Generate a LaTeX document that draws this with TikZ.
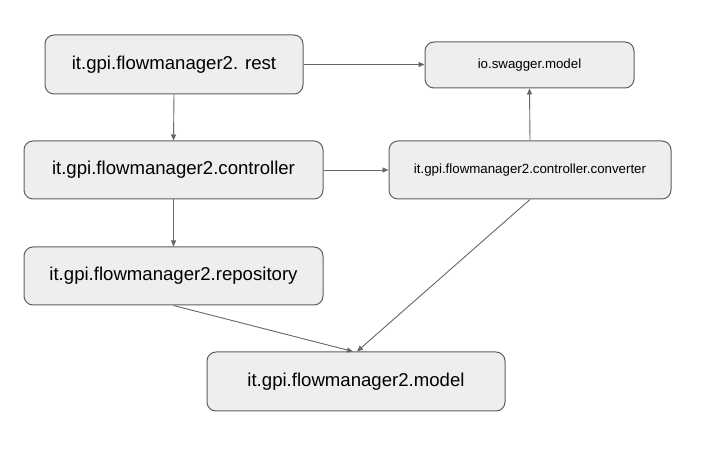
\documentclass[tikz,border=0pt]{standalone}
\usepackage{fontspec}
\setmainfont{Liberation Sans}
\usetikzlibrary{arrows.meta}
\definecolor{boxfill}{HTML}{EEEEEE}
\definecolor{boxline}{HTML}{5F5F5F}
\definecolor{arrline}{HTML}{666666}
\begin{document}
\begin{tikzpicture}[x=1pt,y=-1pt,
  pkg/.style={draw=boxline,fill=boxfill,line width=1pt,rounded corners=9pt,inner sep=0pt,text=black},
  bigpkg/.style={pkg,font=\fontsize{18.6}{22}\selectfont},
  smallpkg/.style={pkg,font=\fontsize{13.3}{16}\selectfont},
  conn/.style={draw=arrline,line width=0.9pt,-{Triangle[length=6pt,width=5pt]}}]
\useasboundingbox (0,0) rectangle (721,454);
\node[bigpkg,minimum width=258pt,minimum height=59pt] (rest) at (174,64.5) {it.gpi.flowmanager2. rest};
\node[smallpkg,minimum width=209pt,minimum height=46pt] (swagger) at (529.5,65) {io.swagger.model};
\node[bigpkg,minimum width=299pt,minimum height=58pt] (ctrl) at (173.5,170) {it.gpi.flowmanager2.controller};
\node[smallpkg,minimum width=282pt,minimum height=58pt] (conv) at (530,170) {it.gpi.flowmanager2.controller.converter};
\node[bigpkg,minimum width=299pt,minimum height=58pt] (repo) at (173.5,276) {it.gpi.flowmanager2.repository};
\node[bigpkg,minimum width=298pt,minimum height=59pt] (model) at (356,381.5) {it.gpi.flowmanager2.model};
\draw[conn] (rest.east) -- (swagger.west |- rest.east);
\draw[conn] (rest.south) -- (ctrl.north);
\draw[conn] (ctrl.east) -- (conv.west);
\draw[conn] (conv.north) -- (swagger.south);
\draw[conn] (ctrl.south) -- (repo.north);
\draw[conn] (repo.south) -- ([xshift=-3pt]model.north);
\draw[conn] (conv.south) -- ([xshift=1pt]model.north);
\end{tikzpicture}
\end{document}
